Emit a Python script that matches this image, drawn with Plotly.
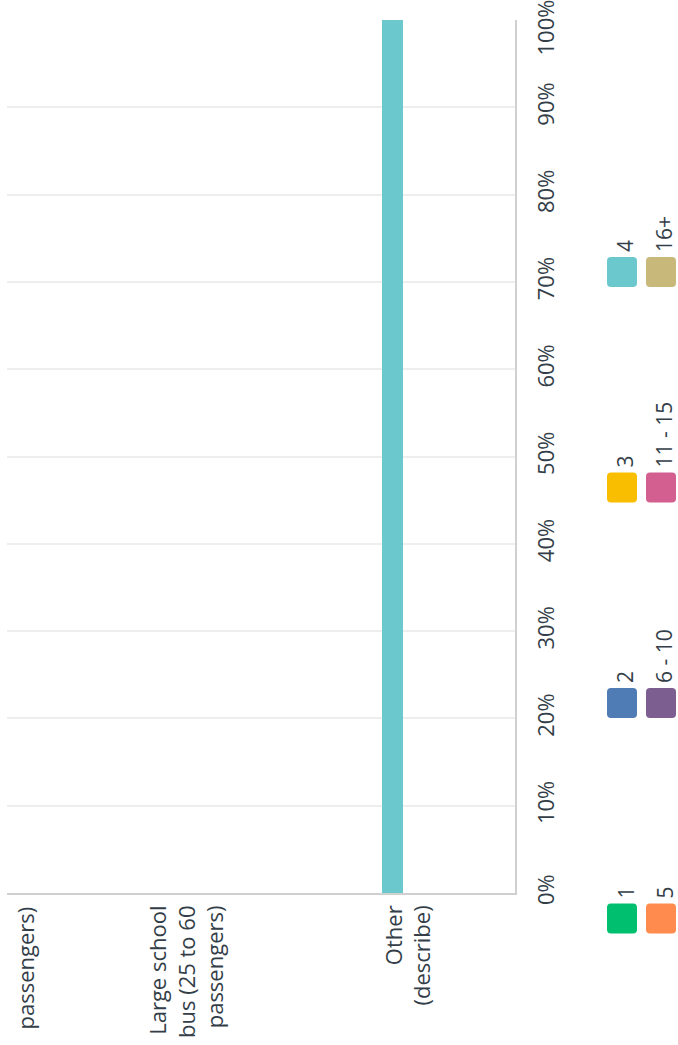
import plotly.graph_objects as go

# categories along the bar axis (first one is cut off at the edge of the picture)
categories = ["passengers)", "Large school bus (25 to 60 passengers)", "Other (describe)"]
category_labels = ["passengers)", "Large school<br>bus (25 to 60<br>passengers)", "Other<br>(describe)"]

# answer groups (legend) and their share of responses per category, in %
groups = ["1", "2", "3", "4", "5", "6 - 10", "11 - 15", "16+"]
values = {
    "1": [0, 0, 0],
    "2": [0, 0, 0],
    "3": [0, 0, 0],
    "4": [0, 0, 100],
    "5": [0, 0, 0],
    "6 - 10": [0, 0, 0],
    "11 - 15": [0, 0, 0],
    "16+": [0, 0, 0],
}
colors = ["#00bf6f", "#507cb6", "#f9be00", "#6bc8cd",
          "#ff8b4f", "#7d5e90", "#d25f90", "#c8b87a"]

tick_vals = list(range(0, 101, 10))
tick_text = [f"{v}%" for v in tick_vals[:-1]] + [""]

W, H = 678, 1045
L, R, T, B = 7, 163, 20, 152
pw, ph = W - L - R, H - T - B
text_col = "#333e48"
x_range = [0.2596, 2.553]


def px_x(px):
    return (px - L) / pw


def px_y(py):
    return (H - B - py) / ph


def data_to_paper(x):
    return (x - x_range[0]) / (x_range[1] - x_range[0])


fig = go.Figure()
xs = list(range(len(categories)))
for g, c in zip(groups, colors):
    fig.add_trace(go.Bar(x=xs, y=values[g], name=g, marker_color=c,
                         marker_line_width=0, width=0.095, showlegend=False))

fig.update_layout(
    width=W, height=H, barmode="stack",
    margin=dict(l=L, r=R, t=T, b=B),
    paper_bgcolor="white", plot_bgcolor="white",
    font=dict(family="Open Sans", color=text_col, size=20),
)
fig.update_xaxes(range=x_range, showticklabels=False, showgrid=False,
                 zeroline=False, showline=True, linecolor="#d0d0d0", linewidth=2,
                 ticks="")
fig.update_yaxes(range=[0, 100], side="right", tickvals=tick_vals, ticktext=tick_text,
                 tickangle=-90, showgrid=True, gridcolor="#eeeeee", gridwidth=1.5,
                 zeroline=False, showline=True, linecolor="#d0d0d0", linewidth=2,
                 ticks="", ticklabelstandoff=11, tickfont=dict(size=22, color=text_col))

# 100% label nudged inside the picture
fig.add_annotation(text="100%", xref="paper", yref="paper", x=px_x(544.5), y=px_y(28),
                   xanchor="center", yanchor="middle", textangle=-90, showarrow=False,
                   font=dict(size=22, color=text_col))

# category labels under the bars
label_shift = [75.5, 14, 14]
for x, lab, sh in zip(xs, category_labels, label_shift):
    fig.add_annotation(text=lab, x=data_to_paper(x), xref="paper", y=0, yref="paper",
                       yshift=-11, xshift=sh, xanchor="center", yanchor="top",
                       align="right", textangle=-90, showarrow=False,
                       font=dict(size=22, color=text_col))

# legend drawn as rotated swatches + labels
sw = ("M -15,-11 Q -15,-15 -11,-15 L 11,-15 Q 15,-15 15,-11 L 15,11 "
      "Q 15,15 11,15 L -11,15 Q -15,15 -15,11 Z")
col_x = [622, 661]
row_y0, row_step = 918.5, 215.5
for i, (g, c) in enumerate(zip(groups, colors)):
    cx = col_x[i // 4]
    cy = row_y0 - (i % 4) * row_step
    fig.add_shape(type="path", path=sw, xref="paper", yref="paper",
                  xsizemode="pixel", ysizemode="pixel",
                  xanchor=px_x(cx), yanchor=px_y(cy),
                  fillcolor=c, line_width=0)
    fig.add_annotation(text=g, xref="paper", yref="paper", x=px_x(cx + 3),
                       y=px_y(cy - 18), xanchor="center", yanchor="bottom",
                       textangle=-90, showarrow=False,
                       font=dict(size=21, color=text_col))

fig.write_html("out.html", config={"displayModeBar": False},
               post_script="document.body.style.margin='0';")
